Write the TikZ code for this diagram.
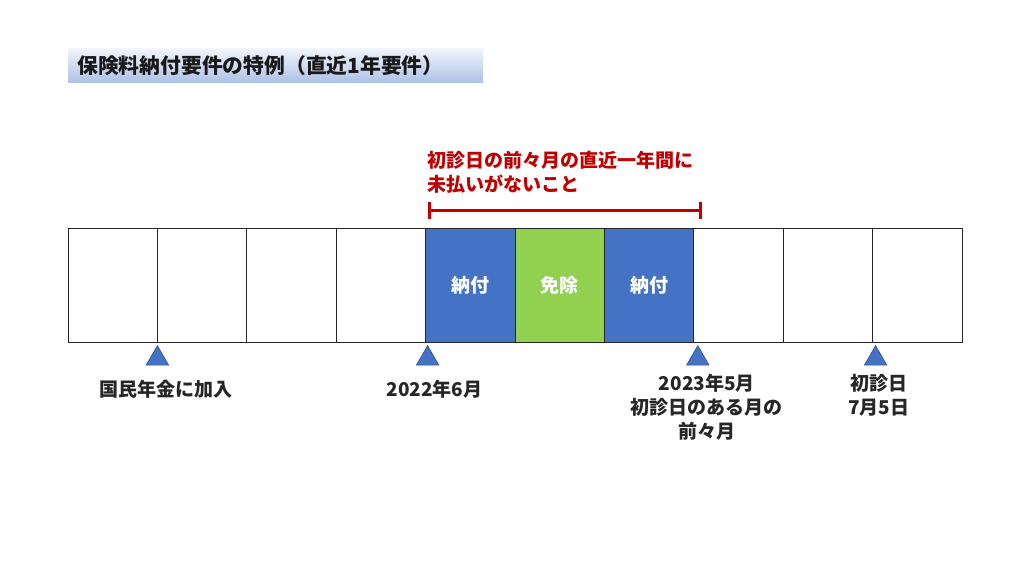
\documentclass[tikz,border=0pt]{standalone}
\usepackage{fontspec}
\newfontfamily\jpfont{Noto Sans CJK JP}
\usetikzlibrary{positioning,shapes.geometric,arrows.meta}
\definecolor{paidblue}{HTML}{4472C4}
\definecolor{exemptgreen}{HTML}{92D050}
\definecolor{markerblue}{HTML}{2F528F}
\definecolor{notered}{HTML}{C00000}
\definecolor{titletop}{HTML}{F2F5FB}
\definecolor{titlebottom}{HTML}{AEC2E6}
\begin{document}
\begin{tikzpicture}[x=1pt,y=-1pt,node distance=15pt]
    \tikzstyle{jp} = [font=\jpfont\bfseries\fontsize{19}{24}\selectfont]
    \tikzstyle{month} = [rectangle, draw=black!85, line width=0.9pt, outer sep=0pt, inner sep=0pt, minimum width=89.4pt, minimum height=114pt]
    \tikzstyle{paid} = [month, fill=paidblue]
    \tikzstyle{exempt} = [month, fill=exemptgreen]
    \tikzstyle{boxtext} = [jp, text=white, inner sep=0pt]
    \tikzstyle{marker} = [regular polygon, regular polygon sides=3, minimum size=26pt, inner sep=0pt, fill=paidblue, draw=markerblue, line width=0.6pt]
    \tikzstyle{label} = [jp, align=center, inner sep=0pt, text=black!85]
    \tikzstyle{bracket} = [draw=notered, line width=3pt, {Bar[width=17pt]}-{Bar[width=17pt]}]

    \useasboundingbox (0,0) rectangle (1024,576);
    \fill [white] (0,0) rectangle (1024,576);

    % title bar
    \node (title) [anchor=north west, top color=titletop, bottom color=titlebottom, minimum height=34pt, text width=397pt, inner xsep=9pt, align=left, font=\jpfont\bfseries\fontsize{20.8}{24}\selectfont, text=black!90] at (68,48) {保険料納付要件の特例（直近1年要件）};

    % months
    \node (m1) [month, anchor=north west] at (68,228) {};
    \foreach \s [count=\j from 2] in {month,month,month,paid,exempt,paid,month,month,month} {
        \pgfmathtruncatemacro\i{\j-1}
        \node (m\j) [\s, anchor=west] at (m\i.east) {};
    }
    \node (p1) [boxtext] at (m5) {納付};
    \node (e1) [boxtext] at (m6) {免除};
    \node (p2) [boxtext] at (m7) {納付};

    % one year span
    \coordinate (bl) at ([xshift=2pt,yshift=18pt]m5.north west);
    \coordinate (br) at ([xshift=8pt,yshift=18pt]m7.north east);
    \draw [bracket] (bl) -- (br);
    \node (note) [jp, anchor=south west, align=left, inner sep=0pt, text=notered] at ([yshift=17pt]bl) {初診日の前々月の直近一年間に\\未払いがないこと};

    % markers
    \node (t1) [marker, below=3pt of m1.south east] {};
    \node (t2) [marker, below=3pt of m5.south west, xshift=2pt] {};
    \node (t3) [marker, below=3pt of m7.south east, xshift=4pt] {};
    \node (t4) [marker, below=3pt of m9.south east, xshift=3pt] {};

    \node (l1) [label, below=15pt of t1.south, xshift=9pt] {国民年金に加入};
    \node (l2) [label, below=15pt of t2.south, xshift=7pt] {2022年6月};
    \node (l3) [label, below=9pt of t3.south, xshift=9pt] {2023年5月\\初診日のある月の\\前々月};
    \node (l4) [label, below=9pt of t4.south, xshift=3pt] {初診日\\7月5日};
\end{tikzpicture}
\end{document}
